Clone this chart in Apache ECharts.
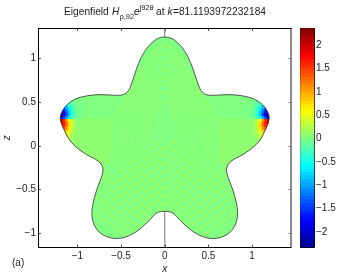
<!DOCTYPE html>
<html><head><meta charset="utf-8">
<style>html,body{margin:0;padding:0;background:#fff}#c{width:338px;height:273px}</style>
<script src="https://cdn.jsdelivr.net/npm/echarts@6/dist/echarts.min.js"></script>
</head><body><div id="c"></div>
<script>
const xTicks=[-1,-0.5,0,0.5,1];
const zTicks=[-1,-0.5,0,0.5,1];
const barTicks=[-2,-1.5,-1,-0.5,0,0.5,1,1.5,2];
const outlineLeft=[[0,1.247],[-0.092,1.224],[-0.188,1.139],[-0.263,1.024],[-0.32,0.891],[-0.378,0.719],[-0.416,0.634],[-0.474,0.588],[-0.588,0.581],[-0.74,0.588],[-0.892,0.573],[-1.026,0.536],[-1.121,0.47],[-1.172,0.401],[-1.195,0.329],[-1.178,0.241],[-1.141,0.164],[-1.103,0.088],[-1.026,-0.003],[-0.892,-0.1],[-0.76,-0.175],[-0.709,-0.252],[-0.721,-0.347],[-0.778,-0.501],[-0.824,-0.673],[-0.832,-0.806],[-0.798,-0.921],[-0.721,-1.009],[-0.588,-1.058],[-0.454,-1.044],[-0.32,-0.978],[-0.188,-0.864],[-0.092,-0.768],[0,-0.749]];
const tipXs=[-1.21,-1.18,-1.15,-1.12,-1.09,-1.06,-1.03,-1.0,-0.97,-0.94];
const tipZs=[0.53,0.5,0.47,0.44,0.41,0.38,0.35,0.32,0.29,0.26,0.23,0.2,0.17,0.14,0.11,0.08,0.05];
const tipField=[
[0,0,0,-.15,-.1,-.06,-.03,0,0,0],
[-.6,-.6,-.5,-.35,-.2,-.1,-.05,-.02,0,0],
[-1,-1,-.9,-.6,-.35,-.18,-.08,-.03,0,0],
[-1.4,-1.4,-1.2,-.85,-.55,-.28,-.12,-.04,-.02,0],
[-1.8,-1.8,-1.5,-1.1,-.7,-.36,-.16,-.06,-.02,0],
[-2.2,-2.2,-1.8,-1.3,-.8,-.4,-.18,-.07,-.03,0],
[-2.3,-2.3,-1.9,-1.4,-.8,-.4,-.18,-.07,-.03,0],
[-1.9,-1.9,-1.4,-.9,-.5,-.25,-.1,-.04,-.02,0],
[2.3,2.1,1.6,1.1,.6,.3,.14,.09,.09,.09],
[2.2,2,1.7,1.3,.8,.42,.2,.1,.09,.09],
[2,1.9,1.6,1.25,.8,.42,.2,.1,.09,.09],
[1.8,1.7,1.4,1.1,.7,.38,.18,.1,.09,.09],
[1.5,1.4,1.2,.9,.55,.32,.16,.1,.09,.09],
[1.1,1.1,.95,.7,.42,.25,.14,.1,.09,.09],
[.8,.8,.65,.48,.32,.2,.12,.09,.09,.09],
[.5,.5,.42,.34,.24,.16,.11,.09,.09,.09],
[.3,.3,.26,.22,.17,.13,.1,.09,.09,.09]];
const armPatch=[[-1.25,-0.62,-0.2,0.31,0.09],[0.62,1.25,-0.2,0.31,0.09]];
const baseValue=0.02, stripeValue=0.09;
const stripes=[
[[0,1.16],[-.12,1.08],[-.28,.84],[-.43,.56],[-.57,.34],[-.62,.2],[-.61,-.02],[-.53,-.26],[-.31,-.45],[-.12,-.59],[0,-.68]],
[[0,1.07],[-.11,1],[-.25,.78],[-.39,.53],[-.51,.33],[-.555,.2],[-.54,0],[-.47,-.21],[-.28,-.38],[-.11,-.51],[0,-.59]],
[[0,.98],[-.1,.92],[-.22,.72],[-.34,.5],[-.45,.32],[-.49,.2],[-.48,.02],[-.42,-.16],[-.25,-.32],[-.1,-.43],[0,-.5]],
[[0,.89],[-.085,.83],[-.19,.66],[-.3,.46],[-.39,.3],[-.425,.2],[-.42,.05],[-.36,-.12],[-.21,-.25],[-.085,-.35],[0,-.41]],
[[0,.8],[-.07,.75],[-.16,.6],[-.25,.43],[-.33,.29],[-.36,.2],[-.35,.07],[-.31,-.07],[-.18,-.18],[-.07,-.27],[0,-.32]],
[[0,.71],[-.06,.67],[-.13,.54],[-.21,.39],[-.27,.28],[-.295,.2],[-.29,.09],[-.25,-.02],[-.15,-.12],[-.06,-.19],[0,-.23]],
[[0,.62],[-.05,.59],[-.1,.48],[-.16,.36],[-.21,.26],[-.23,.2],[-.225,.12],[-.2,.02],[-.115,-.05],[-.05,-.11],[0,-.14]],
[[0,.53],[-.03,.5],[-.07,.42],[-.115,.32],[-.15,.25],[-.165,.2],[-.16,.14],[-.14,.07],[-.08,.02],[-.03,-.03],[0,-.05]],
[[0,-.77],[-.15,-.66],[-.35,-.51],[-.56,-.36],[-.68,-.26],[-.72,-.15]],
[[0,-.86],[-.18,-.73],[-.4,-.57],[-.6,-.42],[-.74,-.32]],
[[0,-.95],[-.2,-.8],[-.44,-.63],[-.64,-.48],[-.78,-.38]],
[[0,-1.04],[-.24,-.86],[-.48,-.69],[-.68,-.55],[-.82,-.45]],
[[-.28,-.93],[-.52,-.76],[-.72,-.62],[-.86,-.52]],
[[-.36,-.97],[-.56,-.83],[-.76,-.69]],
[[-.44,-1.03],[-.62,-.9],[-.82,-.76]]];
const barLevels=[-2.283,-2.21,-2.137,-2.064,-1.991,-1.918,-1.844,-1.771,-1.698,-1.625,-1.552,-1.479,-1.406,-1.333,-1.26,-1.186,-1.113,-1.04,-0.967,-0.894,-0.821,-0.748,-0.675,-0.602,-0.528,-0.455,-0.382,-0.309,-0.236,-0.163,-0.09,-0.017,0.056,0.129,0.202,0.275,0.349,0.422,0.495,0.568,0.641,0.714,0.787,0.86,0.933,1.007,1.08,1.153,1.226,1.299,1.372,1.445,1.518,1.591,1.665,1.738,1.811,1.884,1.957,2.03,2.103,2.176,2.249,2.323];
const jetStops=['#00008f','#0000ff','#007fff','#00ffff','#80ff80','#ffff00','#ff7f00','#ff0000','#800000'];

const outline=outlineLeft.concat(outlineLeft.slice(1,-1).reverse().map(p=>[-p[0],p[1]]));
const cellW=0.015, cellH=0.015;
const cells=[];
tipField.forEach((row,r)=>row.forEach((v,c)=>{
  const x=tipXs[c],z=tipZs[r];
  cells.push([x-cellW,x+cellW,z-cellH,z+cellH,v]);
  cells.push([-x-cellW,-x+cellW,z-cellH,z+cellH,v]);
}));
armPatch.forEach(p=>cells.unshift(p));
const stripeData=[];
stripes.forEach((s,i)=>{stripeData.push([i,1,0,0,stripeValue]);stripeData.push([i,-1,0,0,stripeValue]);});
const barData=barLevels.map(c=>[0,1,c-0.0375,c+0.0375,c]);

const outlineShape=api=>({points:outline.map(p=>api.coord(p)),smooth:0.35});
function rectItem(params,api){
  const a=api.coord([api.value(0),api.value(3)]),b=api.coord([api.value(1),api.value(2)]);
  return {type:'rect',shape:{x:a[0]-0.3,y:a[1]-0.3,width:b[0]-a[0]+0.6,height:b[1]-a[1]+0.6},style:{fill:api.visual('color')}};
}
const fmt=v=>String(v).replace('-','\u2212');
const font={fontFamily:'"Liberation Sans",Arial,sans-serif',fontSize:10,color:'#222'};
const XR=1.445,ZT=1.345,ZB=-1.157,BT=2.36,BB=-2.32;
function axis(extra){return Object.assign({type:'value',splitLine:{show:false},axisLine:{show:true,onZero:false,lineStyle:{color:'#000',width:1}},axisTick:{show:false},axisLabel:{show:false}},extra);}
const tk=(vals,color)=>({show:true,inside:true,length:2.5,customValues:vals,lineStyle:{color:color||'#222',width:0.8}});
const lbl=(vals,m)=>Object.assign({show:true,customValues:vals,formatter:fmt,margin:m},font);

const option={animation:false,backgroundColor:'#fff',
grid:[{left:38.5,top:28.5,width:252.5,height:218.5,outerBoundsMode:'none'},{left:300.5,top:28.5,width:13.5,height:218.5,outerBoundsMode:'none'}],
xAxis:[
 axis({gridIndex:0,position:'bottom',min:-XR,max:XR,axisTick:tk(xTicks),axisLabel:lbl(xTicks,4),name:'x',nameLocation:'middle',nameGap:17,nameMoveOverlap:false,nameTextStyle:Object.assign({},font,{fontStyle:'italic'})}),
 axis({gridIndex:0,position:'top',min:-XR,max:XR,axisTick:tk(xTicks)}),
 axis({gridIndex:1,position:'bottom',min:0,max:1}),
 axis({gridIndex:1,position:'top',min:0,max:1})],
yAxis:[
 axis({gridIndex:0,position:'left',min:ZB,max:ZT,axisTick:tk(zTicks),axisLabel:lbl(zTicks,2.5),name:'z',nameLocation:'middle',nameGap:26,nameRotate:90,nameMoveOverlap:false,nameTextStyle:Object.assign({},font,{fontStyle:'italic'})}),
 axis({gridIndex:0,position:'right',min:ZB,max:ZT,axisTick:tk(zTicks,'#666'),axisLine:{show:true,onZero:false,lineStyle:{color:'#666',width:1.5}}}),
 axis({gridIndex:1,position:'left',min:BB,max:BT,axisTick:tk(barTicks)}),
 axis({gridIndex:1,position:'right',min:BB,max:BT,axisTick:tk(barTicks),axisLabel:lbl(barTicks,2)})],
visualMap:[{type:'continuous',show:false,min:BB,max:BT,dimension:4,seriesIndex:[1,2,3,5],inRange:{color:jetStops}}],
series:[
 {type:'line',z:1,xAxisIndex:0,yAxisIndex:0,silent:true,symbol:'none',data:[[0,ZB],[0,ZT]],lineStyle:{color:'#555',width:0.8}},
 {type:'custom',z:2,xAxisIndex:0,yAxisIndex:0,silent:true,data:[[0,0,0,0,baseValue]],
  renderItem:(p,api)=>({type:'polygon',shape:outlineShape(api),style:{fill:api.visual('color')}})},
 {type:'custom',z:3,xAxisIndex:0,yAxisIndex:0,silent:true,data:stripeData,
  renderItem:(p,api)=>{
    const s=stripes[api.value(0)],m=api.value(1);
    return {type:'group',clipPath:{type:'polygon',shape:outlineShape(api)},children:[{type:'polyline',
      shape:{points:s.map(q=>api.coord([m*q[0],q[1]])),smooth:0.3},style:{fill:'none',stroke:api.visual('color'),lineWidth:2.6}}]};
  }},
 {type:'custom',z:4,xAxisIndex:0,yAxisIndex:0,silent:true,data:cells,
  renderItem:(p,api)=>({type:'group',clipPath:{type:'polygon',shape:outlineShape(api)},children:[rectItem(p,api)]})},
 {type:'custom',z:5,xAxisIndex:0,yAxisIndex:0,silent:true,data:[[0]],
  renderItem:(p,api)=>({type:'polygon',shape:outlineShape(api),style:{fill:'none',stroke:'#444',lineWidth:0.9}})},
 {type:'custom',z:2,xAxisIndex:2,yAxisIndex:2,silent:true,data:barData,renderItem:rectItem}
],
graphic:[
 ...[
  ['Eigenfield',64,12,'normal',10.2],['H',112,12,'italic',10.2],['\u03c1,92',119.5,17,'normal',7.5],
  ['e',134,12,'italic',10.2],['j92\u03b8',139.5,8,'normal',7.5],['at',156,12,'normal',10.2],
  ['k',167.5,12,'italic',10.2],['=81.1193972232184',173,12,'normal',10.2],['(a)',12,263,'normal',10]
 ].map(t=>({type:'text',silent:true,z:10,x:t[1],y:t[2],style:{text:t[0],fill:'#222',font:t[3]+' '+t[4]+'px "Liberation Sans",Arial,sans-serif',textVerticalAlign:'middle',verticalAlign:'middle'}}))
]};
const chart=echarts.init(document.getElementById('c'),null,{renderer:'canvas'});
chart.setOption(option);
</script></body></html>
